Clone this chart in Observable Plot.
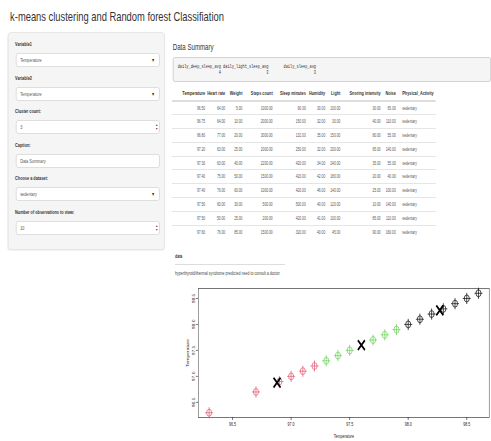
<!DOCTYPE html>
<html><head><meta charset="utf-8">
<script src="https://cdn.jsdelivr.net/npm/d3@7"></script>
<script src="https://cdn.jsdelivr.net/npm/@observablehq/plot@0.6"></script>
<style>
html,body{margin:0;padding:0;background:#fff;overflow:hidden;width:491px;height:441px;}
#page{position:absolute;left:0;top:0;width:682px;height:441px;transform:scaleX(0.72);transform-origin:0 0;font-family:"Liberation Sans",Arial,sans-serif;color:#333;}
.abs{position:absolute;white-space:nowrap;}
#title{left:14px;top:10px;font-size:13px;line-height:14px;color:#333;}
#side{left:11px;top:32px;width:218px;height:218px;background:#f5f5f5;border:1px solid #e3e3e3;border-radius:4px;box-sizing:border-box;box-shadow:0 1px 1px rgba(0,0,0,.05);}
.lab{position:absolute;left:21px;font-size:5.3px;font-weight:bold;line-height:6px;color:#333;white-space:nowrap;}
.inp{position:absolute;left:22px;width:200px;height:14px;background:#fff;border:1px solid #d9d9d9;border-radius:3px;box-sizing:border-box;font-size:5.3px;line-height:12px;color:#555;padding-left:5px;white-space:nowrap;}
.caret{position:absolute;right:7px;top:0;font-size:6px;color:#333;}
.spin{position:absolute;right:2px;top:2px;font-size:4px;line-height:4px;color:#333;}
#dsh{left:240px;top:42px;font-size:8.5px;line-height:10px;color:#333;}
#pre{left:240px;top:57px;width:442px;height:25px;background:#f5f5f5;border:1px solid #ccc;border-radius:3px;box-sizing:border-box;margin:0;padding:6px 0 0 2.8px;font-family:"Liberation Mono","DejaVu Sans Mono",monospace;font-size:5px;line-height:6px;color:#333;white-space:pre;}
#tbl{left:239px;top:85px;border-collapse:collapse;table-layout:fixed;}
#tbl th{font-size:5.3px;font-weight:bold;color:#333;height:16px;padding:0 3px;border-bottom:2px solid #ddd;box-sizing:border-box;white-space:nowrap;overflow:visible;}
#tbl td{font-size:4.6px;color:#555;height:13.8px;padding:0 3px;border-top:1px solid #e5e5e5;box-sizing:border-box;white-space:nowrap;}
#tbl tr:first-child td{border-top:none;}
#dlab{left:243px;top:253px;font-size:5px;font-weight:bold;line-height:6px;}
#dline{left:243px;top:264px;width:153px;height:0;border-top:1px solid #ddd;}
#dtxt{left:243px;top:270px;font-size:5px;line-height:6px;color:#444;}
#plot{left:236px;top:283px;}
</style></head>
<body><div id="page"></div>
<script>
// ---- data ----
const titleText = "k-means clustering and Random forest Classifiation";
const inputLabels = ["Variable1","Variable2","Cluster count:","Caption:","Choose a dataset:","Number of observations to view:"];
const inputValues = ["Temperature","Temperature","3","Data Summary","sedentary","10"];
const inputKinds = ["select","select","number","text","select","number"];
const captionText = "Data Summary";
const summaryNames = ["daily_deep_sleep_avg","daily_light_sleep_avg","daily_sleep_avg"];
const summaryValues = [4,3,3];
const tableHeaders = ["Temperature","Heart rate","Weight","Steps count","Sleep minutes","Humidity","Light","Snoring intensity","Noise","Physical_Activity"];
const colTemperature = [96.50,96.75,96.80,97.20,97.30,97.40,97.40,97.50,97.50,97.60];
const colHeartRate = [64,64,77,63,63,75,76,60,50,76];
const colWeight = [5,10,20,25,40,50,60,30,25,85];
const colSteps = [1000,2000,3000,2000,2200,1500,1000,500,200,1500];
const colSleep = [90,150,132,250,420,420,420,500,420,320];
const colHumidity = [30,32,35,32,34,42,46,40,41,40];
const colLight = [100,30,150,200,240,180,140,120,100,45];
const colSnoring = [30,40,80,65,35,20,25,10,85,90];
const colNoise = [65,110,55,140,55,40,100,140,110,160];
const colActivity = ["sedentary","sedentary","sedentary","sedentary","sedentary","sedentary","sedentary","sedentary","sedentary","sedentary"];
const dataLabel = "data";
const dataText = "hyperthyroid/thermal syndrome predicted need to consult a doctor";
// scatter: Temperature vs Temperature, k-means with 3 clusters
const pointTemps = [96.3,96.7,96.9,97.0,97.1,97.2,97.3,97.4,97.5,97.7,97.8,97.9,98.0,98.1,98.2,98.3,98.4,98.5,98.6];
const pointCluster = [1,1,1,1,1,1,2,2,2,2,2,2,3,3,3,3,3,3,3];
const centerTemps = [96.88,97.6,98.27];
const axisTicks = [96.5,97.0,97.5,98.0,98.5];
const clusterColors = ["#DF536B","#61D04F","#000000"];
const axisLabel = "Temperature";

// ---- page ----
const page = d3.select("#page");
page.append("div").attr("id","title").attr("class","abs").text(titleText);
page.append("div").attr("id","side").attr("class","abs");
inputLabels.forEach((lab,i)=>{
  const top = 53 + i*33.6;
  page.append("div").attr("class","lab").style("top",(top-12)+"px").text(lab);
  const box = page.append("div").attr("class","inp").style("top",top+"px").text(inputValues[i]);
  if (inputKinds[i]==="select") box.append("span").attr("class","caret").text("▾");
  if (inputKinds[i]==="number") box.append("span").attr("class","spin").html("▴<br>▾");
});
page.append("div").attr("id","dsh").attr("class","abs").text(captionText);
const w = d3.max(summaryNames,d=>d.length);
const line1 = summaryNames.map(n=>n.padStart(w)).join(" ");
const line2 = summaryValues.map(v=>String(v).padStart(w)).join(" ");
page.append("pre").attr("id","pre").attr("class","abs").text(line1+"\n"+line2);

const cols = [colTemperature,colHeartRate,colWeight,colSteps,colSleep,colHumidity,colLight,colSnoring,colNoise,colActivity];
const colW = [49,27,24,42,46,27,21,56,21,52];
const tbl = page.append("table").attr("id","tbl").attr("class","abs");
const cg = tbl.append("colgroup");
colW.forEach(cw=>cg.append("col").style("width",cw+"px"));
const hr = tbl.append("thead").append("tr");
tableHeaders.forEach((h,j)=>hr.append("th").style("text-align", j===9?"left":"right").style("padding-left", j===9?"6px":"0").text(h));
const tb = tbl.append("tbody");
colTemperature.forEach((_,r)=>{
  const tr = tb.append("tr");
  cols.forEach((c,j)=>{
    const v = c[r];
    tr.append("td").style("text-align", j===9?"left":"right").style("padding-left", j===9?"6px":"0")
      .text(typeof v==="number"? v.toFixed(2) : v);
  });
});
page.append("div").attr("id","dlab").attr("class","abs").text(dataLabel);
page.append("div").attr("id","dline").attr("class","abs");
page.append("div").attr("id","dtxt").attr("class","abs").text(dataText);

// ---- plot ----
const pts = pointTemps.map((t,i)=>({t, c: pointCluster[i]}));
const ctr = centerTemps.map(t=>({t}));
const [lo,hi] = d3.extent(pointTemps);
const pad = (hi-lo)*0.04;
const dom = [lo-pad, hi+pad];
const fmt = d3.format(".1f");
const chart = Plot.plot({
  width: 446, height: 158,
  marginLeft: 39, marginRight: 3, marginTop: 5, marginBottom: 24,
  style: {fontFamily: "Liberation Sans, Arial, sans-serif", fontSize: "5px", background: "white", color: "#222"},
  x: {domain: dom},
  y: {domain: dom},
  color: {domain: [1,2,3], range: clusterColors},
  marks: [
    Plot.frame({stroke: "#555", strokeWidth: 0.8}),
    Plot.axisX({ticks: axisTicks, tickFormat: fmt, tickSize: 3, tickPadding: 2, label: axisLabel, labelAnchor: "center", labelArrow: "none", labelOffset: 20, strokeWidth: 0.7}),
    Plot.axisY({ticks: axisTicks, tickFormat: fmt, tickSize: 3, tickPadding: 2, tickRotate: -90, label: axisLabel, labelAnchor: "center", labelArrow: "none", labelOffset: 16, strokeWidth: 0.7}),
    Plot.dot(pts, {x: "t", y: "t", stroke: "c", symbol: "circle", r: 3.5, strokeWidth: 0.8}),
    Plot.dot(pts, {x: "t", y: "t", stroke: "c", symbol: "plus", r: 3.7, strokeWidth: 0.8}),
    Plot.dot(ctr, {x: "t", y: "t", stroke: "black", symbol: "times", r: 4.5, strokeWidth: 2.2})
  ]
});
page.append("div").attr("id","plot").attr("class","abs").node().appendChild(chart);
</script>
</body></html>
